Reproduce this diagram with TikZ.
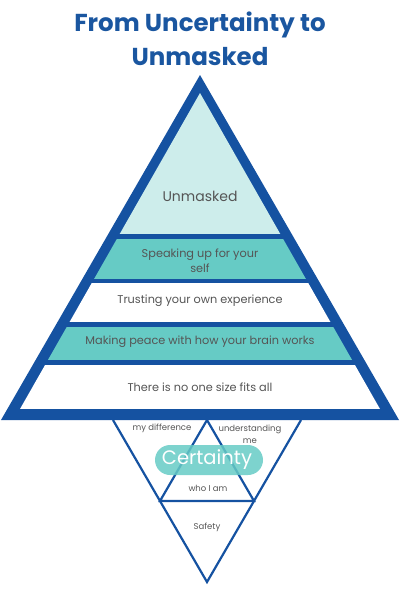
\documentclass[tikz,border=0pt]{standalone}
\usepackage{fontspec}
\setmainfont{Poppins}
\definecolor{pyrblue}{HTML}{1552A1}
\definecolor{titleblue}{HTML}{1A56A0}
\definecolor{paleteal}{HTML}{CDEDEB}
\definecolor{midteal}{HTML}{66CBC5}
\definecolor{txtgrey}{HTML}{555555}
\tikzset{
  bandtext/.style={text=txtgrey, font=\fontsize{11.3}{15}\selectfont, align=center},
  smalltext/.style={text=txtgrey, font=\fontsize{8.5}{12}\selectfont, align=center},
  thinline/.style={draw=pyrblue, line width=2.2pt, line join=miter},
}
\begin{document}
\begin{tikzpicture}[x=1pt,y=-1pt]
\useasboundingbox (0,0) rectangle (400,600);

% title
\node[text=titleblue, font=\fontsize{24.5}{34}\selectfont\bfseries, align=center] (title) at (200,39) {From Uncertainty to\\Unmasked};

% big pyramid
\fill[pyrblue] (200,75) -- (1,420) -- (399,420) -- cycle;
\begin{scope}
\clip (200,93) -- (20,409) -- (380,409) -- cycle;
\fill[paleteal] (0,90) rectangle (400,234);
\fill[midteal] (0,239) rectangle (400,279);
\fill[white] (0,283) rectangle (400,322);
\fill[midteal] (0,327) rectangle (400,360);
\fill[white] (0,365) rectangle (400,409);
\end{scope}

\node[bandtext, font=\fontsize{14}{18}\selectfont] (unmasked) at (200,196) {Unmasked};
\node[bandtext] (speaking) at (200,261) {Speaking up for your\\self};
\node[bandtext] (trusting) at (200,301) {Trusting your own experience};
\node[bandtext] (peace) at (200,342) {Making peace with how your brain works};
\node[bandtext] (nosize) at (200,387) {There is no one size fits all};

% small inverted triangle
\coordinate (tl) at (113,420);
\coordinate (tr) at (301,420);
\coordinate (bot) at (207,582);
\coordinate (tm) at (207,420);
\coordinate (ml) at (160,501);
\coordinate (mr) at (254,501);
\draw[thinline] (tl) -- (bot) -- (tr);
\draw[thinline] (ml) -- (mr) -- (tm) -- cycle;

\node[smalltext] (diff) at (162,428) {my difference};
\node[smalltext] (underst) at (250,434) {understanding\\me};
\node[smalltext] (whoami) at (208,488) {who I am};
\node[smalltext] (safety) at (207,527) {Safety};

\fill[midteal, opacity=0.85, rounded corners=15pt] (155,445) rectangle (263,475);
\node[text=white, font=\fontsize{19.5}{22}\selectfont] (certainty) at (207,460) {Certainty};
\end{tikzpicture}
\end{document}
